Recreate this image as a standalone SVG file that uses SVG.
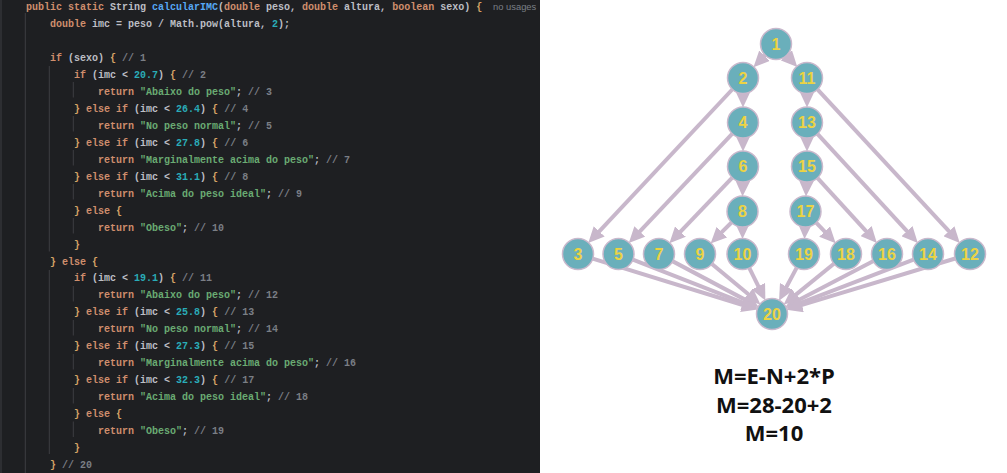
<svg xmlns="http://www.w3.org/2000/svg" width="1007" height="473" viewBox="0 0 1007 473">
<defs>
<style>
.code{font-family:"Liberation Mono","DejaVu Sans Mono",monospace;font-size:10px;font-weight:bold;fill:#bcbec4;white-space:pre}
.k{fill:#cf8e6d}.f{fill:#56a8f5}.s{fill:#6aab73}.n{fill:#2aacb8}.m{fill:#7a7e85}.b{fill:#d5a266}
.guide{stroke:#3c3e43;stroke-width:1}
.hint{font-family:"Liberation Sans",Arial,sans-serif;font-size:9.4px;fill:#7b7f86}
.edge{stroke:#c8b7cb;stroke-width:4;fill:none;marker-end:url(#arr)}
.node circle{fill:#6aafbb;stroke:#c9b8cc;stroke-width:1.5}
.node text{font-family:"Liberation Sans",Arial,sans-serif;font-size:16px;font-weight:bold;fill:#ecd343;text-anchor:middle}
.formula{font-family:"Open Sans","Liberation Sans",sans-serif;font-size:22px;font-weight:bold;fill:#111111;text-anchor:middle}
</style>
<marker id="arr" markerUnits="userSpaceOnUse" markerWidth="16" markerHeight="15" refX="3" refY="7.5" orient="auto">
<path d="M0,0 L16,7.5 L0,15 z" fill="#c8b7cb"/>
</marker>
</defs>
<rect x="0" y="0" width="1007" height="473" fill="#ffffff"/>
<g id="code-panel" xml:space="preserve">
<rect x="0" y="0" width="540" height="473" fill="#1e1f22"/>
<line class="guide" x1="1" y1="0" x2="1" y2="473" stroke="#2b2d30"/>
<line class="guide" x1="25.3" y1="13" x2="25.3" y2="473"/>
<line class="guide" x1="49.3" y1="66" x2="49.3" y2="251.5"/>
<line class="guide" x1="49.3" y1="270" x2="49.3" y2="454"/>
<line class="guide" x1="73.3" y1="82" x2="73.3" y2="97.5"/>
<line class="guide" x1="73.3" y1="116" x2="73.3" y2="131.5"/>
<line class="guide" x1="73.3" y1="150" x2="73.3" y2="165.5"/>
<line class="guide" x1="73.3" y1="184" x2="73.3" y2="199.5"/>
<line class="guide" x1="73.3" y1="218" x2="73.3" y2="233.5"/>
<line class="guide" x1="73.3" y1="286" x2="73.3" y2="301.5"/>
<line class="guide" x1="73.3" y1="320" x2="73.3" y2="335.5"/>
<line class="guide" x1="73.3" y1="354" x2="73.3" y2="369.5"/>
<line class="guide" x1="73.3" y1="388" x2="73.3" y2="403.5"/>
<line class="guide" x1="73.3" y1="421.5" x2="73.3" y2="437"/>
<text class="code" x="26" y="9.9"><tspan class="k">public static</tspan> String <tspan class="f">calcularIMC</tspan>(<tspan class="k">double</tspan> peso, <tspan class="k">double</tspan> altura, <tspan class="k">boolean</tspan> sexo) <tspan class="b">{</tspan></text>
<text class="hint" x="493" y="9.9">no usages</text>
<text class="code" x="50" y="26.9"><tspan class="k">double</tspan> imc = peso / Math.pow(altura, <tspan class="n">2</tspan>);</text>
<text class="code" x="50" y="60.8"><tspan class="k">if</tspan> (sexo) <tspan class="b">{</tspan> <tspan class="m">// 1</tspan></text>
<text class="code" x="74" y="77.8"><tspan class="k">if</tspan> (imc &lt; <tspan class="n">20.7</tspan>) <tspan class="b">{</tspan> <tspan class="m">// 2</tspan></text>
<text class="code" x="98" y="94.8"><tspan class="k">return</tspan> <tspan class="s">"Abaixo do peso"</tspan>; <tspan class="m">// 3</tspan></text>
<text class="code" x="74" y="111.7"><tspan class="b">}</tspan> <tspan class="k">else if</tspan> (imc &lt; <tspan class="n">26.4</tspan>) <tspan class="b">{</tspan> <tspan class="m">// 4</tspan></text>
<text class="code" x="98" y="128.7"><tspan class="k">return</tspan> <tspan class="s">"No peso normal"</tspan>; <tspan class="m">// 5</tspan></text>
<text class="code" x="74" y="145.7"><tspan class="b">}</tspan> <tspan class="k">else if</tspan> (imc &lt; <tspan class="n">27.8</tspan>) <tspan class="b">{</tspan> <tspan class="m">// 6</tspan></text>
<text class="code" x="98" y="162.6"><tspan class="k">return</tspan> <tspan class="s">"Marginalmente acima do peso"</tspan>; <tspan class="m">// 7</tspan></text>
<text class="code" x="74" y="179.6"><tspan class="b">}</tspan> <tspan class="k">else if</tspan> (imc &lt; <tspan class="n">31.1</tspan>) <tspan class="b">{</tspan> <tspan class="m">// 8</tspan></text>
<text class="code" x="98" y="196.6"><tspan class="k">return</tspan> <tspan class="s">"Acima do peso ideal"</tspan>; <tspan class="m">// 9</tspan></text>
<text class="code" x="74" y="213.5"><tspan class="b">}</tspan> <tspan class="k">else</tspan> <tspan class="b">{</tspan></text>
<text class="code" x="98" y="230.5"><tspan class="k">return</tspan> <tspan class="s">"Obeso"</tspan>; <tspan class="m">// 10</tspan></text>
<text class="code" x="74" y="247.5"><tspan class="b">}</tspan></text>
<text class="code" x="50" y="264.5"><tspan class="b">}</tspan> <tspan class="k">else</tspan> <tspan class="b">{</tspan></text>
<text class="code" x="74" y="281.4"><tspan class="k">if</tspan> (imc &lt; <tspan class="n">19.1</tspan>) <tspan class="b">{</tspan> <tspan class="m">// 11</tspan></text>
<text class="code" x="98" y="298.4"><tspan class="k">return</tspan> <tspan class="s">"Abaixo do peso"</tspan>; <tspan class="m">// 12</tspan></text>
<text class="code" x="74" y="315.4"><tspan class="b">}</tspan> <tspan class="k">else if</tspan> (imc &lt; <tspan class="n">25.8</tspan>) <tspan class="b">{</tspan> <tspan class="m">// 13</tspan></text>
<text class="code" x="98" y="332.3"><tspan class="k">return</tspan> <tspan class="s">"No peso normal"</tspan>; <tspan class="m">// 14</tspan></text>
<text class="code" x="74" y="349.3"><tspan class="b">}</tspan> <tspan class="k">else if</tspan> (imc &lt; <tspan class="n">27.3</tspan>) <tspan class="b">{</tspan> <tspan class="m">// 15</tspan></text>
<text class="code" x="98" y="366.3"><tspan class="k">return</tspan> <tspan class="s">"Marginalmente acima do peso"</tspan>; <tspan class="m">// 16</tspan></text>
<text class="code" x="74" y="383.3"><tspan class="b">}</tspan> <tspan class="k">else if</tspan> (imc &lt; <tspan class="n">32.3</tspan>) <tspan class="b">{</tspan> <tspan class="m">// 17</tspan></text>
<text class="code" x="98" y="400.2"><tspan class="k">return</tspan> <tspan class="s">"Acima do peso ideal"</tspan>; <tspan class="m">// 18</tspan></text>
<text class="code" x="74" y="417.2"><tspan class="b">}</tspan> <tspan class="k">else</tspan> <tspan class="b">{</tspan></text>
<text class="code" x="98" y="434.2"><tspan class="k">return</tspan> <tspan class="s">"Obeso"</tspan>; <tspan class="m">// 19</tspan></text>
<text class="code" x="74" y="451.1"><tspan class="b">}</tspan></text>
<text class="code" x="50" y="468.1"><tspan class="b">}</tspan> <tspan class="m">// 20</tspan></text>
</g>
<g id="connectors">
<path class="edge" d="M767.64,52.61 L762.50,57.91"/>
<path class="edge" d="M784.16,52.80 L788.47,57.46"/>
<path class="edge" d="M743,90 L743,94.5"/>
<path class="edge" d="M807,90 L807,94.5"/>
<path class="edge" d="M743,134.5 L743,138.5"/>
<path class="edge" d="M807,134.5 L807,138.5"/>
<path class="edge" d="M742.9,178.5 L742.8,183.5"/>
<path class="edge" d="M806.6,178.49 L806.43,183.52"/>
<path class="edge" d="M742.5,223.5 L742.5,226"/>
<path class="edge" d="M805.08,223.49 L804.99,226.02"/>
<path class="edge" d="M734.01,219.99 L719.80,234.20"/>
<path class="edge" d="M813.78,220.19 L826.69,233.73"/>
<path class="edge" d="M734.69,175.16 L678.39,233.80"/>
<path class="edge" d="M815.10,175.36 L868.11,233.34"/>
<path class="edge" d="M734.75,131.21 L637.75,233.67"/>
<path class="edge" d="M815.13,131.33 L909.04,233.39"/>
<path class="edge" d="M734.79,86.75 L597.15,233.57"/>
<path class="edge" d="M815.15,86.80 L950.97,233.46"/>
<path class="edge" d="M589.46,257.55 L745.25,305.73"/>
<path class="edge" d="M629.68,258.37 L745.92,303.81"/>
<path class="edge" d="M669.60,259.63 L747.27,300.87"/>
<path class="edge" d="M709.22,261.68 L750.49,296.07"/>
<path class="edge" d="M747.79,264.77 L759.65,288.87"/>
<path class="edge" d="M798.35,264.59 L785.18,289.29"/>
<path class="edge" d="M836.68,261.56 L793.75,296.37"/>
<path class="edge" d="M876.36,259.55 L796.82,301.05"/>
<path class="edge" d="M916.80,258.31 L798.13,303.95"/>
<path class="edge" d="M958.52,257.48 L798.80,305.88"/>
</g>
<g id="n1" class="node"><circle cx="776" cy="44" r="15.5"/><text x="776" y="49.7">1</text></g>
<g id="n2" class="node"><circle cx="743" cy="78" r="15.5"/><text x="743" y="83.7">2</text></g>
<g id="n11" class="node"><circle cx="807" cy="78" r="15.5"/><text x="807" y="83.7">11</text></g>
<g id="n4" class="node"><circle cx="743" cy="122.5" r="15.5"/><text x="743" y="128.2">4</text></g>
<g id="n13" class="node"><circle cx="807" cy="122.5" r="15.5"/><text x="807" y="128.2">13</text></g>
<g id="n6" class="node"><circle cx="743" cy="166.5" r="15.5"/><text x="743" y="172.2">6</text></g>
<g id="n15" class="node"><circle cx="807" cy="166.5" r="15.5"/><text x="807" y="172.2">15</text></g>
<g id="n8" class="node"><circle cx="742.5" cy="211.5" r="15.5"/><text x="742.5" y="217.2">8</text></g>
<g id="n17" class="node"><circle cx="805.5" cy="211.5" r="15.5"/><text x="805.5" y="217.2">17</text></g>
<g id="n3" class="node"><circle cx="578" cy="254" r="15.5"/><text x="578" y="259.7">3</text></g>
<g id="n5" class="node"><circle cx="618.5" cy="254" r="15.5"/><text x="618.5" y="259.7">5</text></g>
<g id="n7" class="node"><circle cx="659" cy="254" r="15.5"/><text x="659" y="259.7">7</text></g>
<g id="n9" class="node"><circle cx="700" cy="254" r="15.5"/><text x="700" y="259.7">9</text></g>
<g id="n10" class="node"><circle cx="742.5" cy="254" r="15.5"/><text x="742.5" y="259.7">10</text></g>
<g id="n19" class="node"><circle cx="804" cy="254" r="15.5"/><text x="804" y="259.7">19</text></g>
<g id="n18" class="node"><circle cx="846" cy="254" r="15.5"/><text x="846" y="259.7">18</text></g>
<g id="n16" class="node"><circle cx="887" cy="254" r="15.5"/><text x="887" y="259.7">16</text></g>
<g id="n14" class="node"><circle cx="928" cy="254" r="15.5"/><text x="928" y="259.7">14</text></g>
<g id="n12" class="node"><circle cx="970" cy="254" r="15.5"/><text x="970" y="259.7">12</text></g>
<g id="n20" class="node"><circle cx="772" cy="314" r="15.5"/><text x="772" y="319.7">20</text></g>
<g id="formula">
<text class="formula" x="774" y="383.5">M=E-N+2*P</text>
<text class="formula" x="774" y="412.5">M=28-20+2</text>
<text class="formula" x="774" y="440.8">M=10</text>
</g>
</svg>
